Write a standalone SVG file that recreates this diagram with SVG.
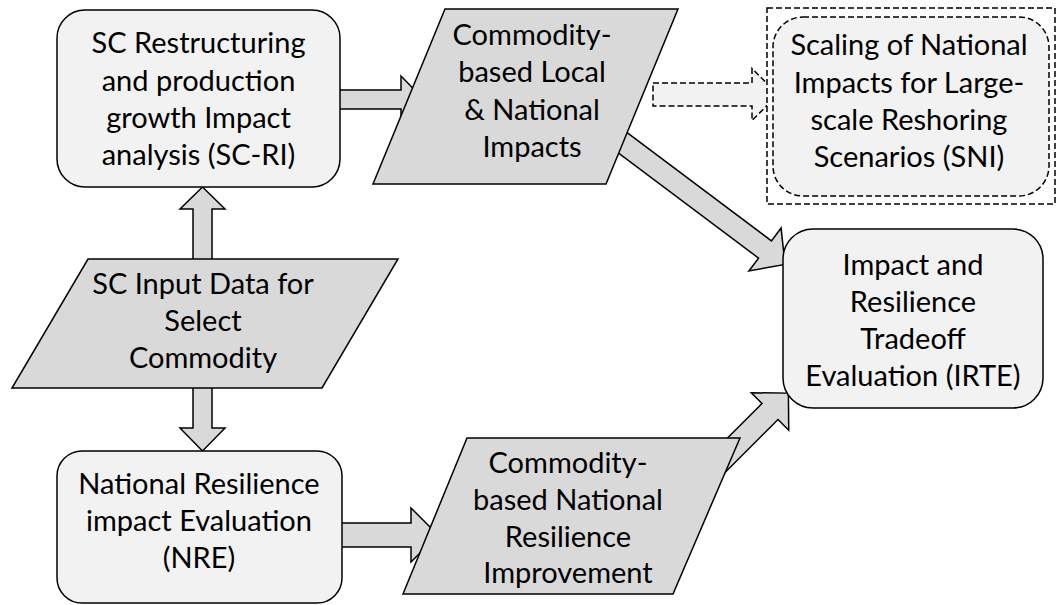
<svg xmlns="http://www.w3.org/2000/svg" width="1057" height="605" viewBox="0 0 1057 605">
<style>
.box{fill:#f2f2f2;stroke:#000;stroke-width:1.5}
.para{fill:#d9d9d9;stroke:#000;stroke-width:1.5}
.arr{fill:#d9d9d9;stroke:#000;stroke-width:1.5;stroke-linejoin:miter}
.darr{fill:#f2f2f2;stroke:#000;stroke-width:1.5;stroke-dasharray:6 3}
.dash{stroke:#000;stroke-width:1.5;stroke-dasharray:6 3}
text{font-family:Lato,"Open Sans","Liberation Sans",sans-serif;font-size:29px;fill:#000;text-anchor:middle}
</style>
<rect width="1057" height="605" fill="#fff"/>
<g id="connectors">
<polygon class="arr" points="335,90 401,90 401,76 424,99.5 401,123 401,109 335,109"/>
<polygon class="arr" points="193,265 193,209 180,209 202.5,187 225,209 212,209 212,265"/>
<polygon class="arr" points="193,382 193,428 180,428 202.5,451 225,428 212,428 212,382"/>
<polygon class="arr" points="338,523 411,523 411,508 438,535 411,562 411,547 338,547"/>
<polygon class="arr" points="611.45,120.9 771.45,240.9 781.08,228.06 785,264.5 748.92,270.94 758.55,258.1 598.55,138.1"/>
<polygon class="arr" points="692,473.5 762,403.5 751.26,392.76 788.38,393.12 788.74,430.24 778,419.5 708,489.5"/>
<polygon class="darr" points="653,83 752,83 752,68.5 778,94.5 752,120.5 752,106 653,106"/>
</g>
<g id="sc-ri">
<rect class="box" x="57" y="10" width="283" height="177" rx="28"/>
<text x="198.5" y="53">SC Restructuring</text>
<text x="198.5" y="90.5">and production</text>
<text x="198.5" y="128">growth Impact</text>
<text x="198.5" y="165">analysis (SC-RI)</text>
</g>
<g id="local-national-impacts">
<polygon class="para" points="445,9 678,9 606,184 373,184"/>
<text x="532" y="45">Commodity-</text>
<text x="532" y="82">based Local</text>
<text x="532" y="120">&amp; National</text>
<text x="532" y="157">Impacts</text>
</g>
<g id="sni">
<rect class="dash" x="767" y="8" width="288" height="196" fill="#fff"/>
<rect class="box" x="773" y="17" width="276" height="179" rx="30" stroke-dasharray="6 3"/>
<text x="909" y="55">Scaling of National</text>
<text x="909" y="93">Impacts for Large-</text>
<text x="909" y="130">scale Reshoring</text>
<text x="909" y="167">Scenarios (SNI)</text>
</g>
<g id="input-data">
<polygon class="para" points="88,259 398,259 322,388 12,388"/>
<text x="203" y="294">SC Input Data for</text>
<text x="203" y="331">Select</text>
<text x="203" y="368">Commodity</text>
</g>
<g id="nre">
<rect class="box" x="57" y="451" width="285" height="152" rx="25"/>
<text x="199" y="494">National Resilience</text>
<text x="199" y="531">impact Evaluation</text>
<text x="199" y="568">(NRE)</text>
</g>
<g id="resilience-improvement">
<polygon class="para" points="467,438 740,438 673,594 403,594"/>
<text x="568" y="473">Commodity-</text>
<text x="568" y="510">based National</text>
<text x="568" y="547">Resilience</text>
<text x="568" y="583">Improvement</text>
</g>
<g id="irte">
<rect class="box" x="783" y="229" width="260" height="179" rx="30"/>
<text x="913" y="275">Impact and</text>
<text x="913" y="312">Resilience</text>
<text x="913" y="349">Tradeoff</text>
<text x="913" y="386">Evaluation (IRTE)</text>
</g>
</svg>
